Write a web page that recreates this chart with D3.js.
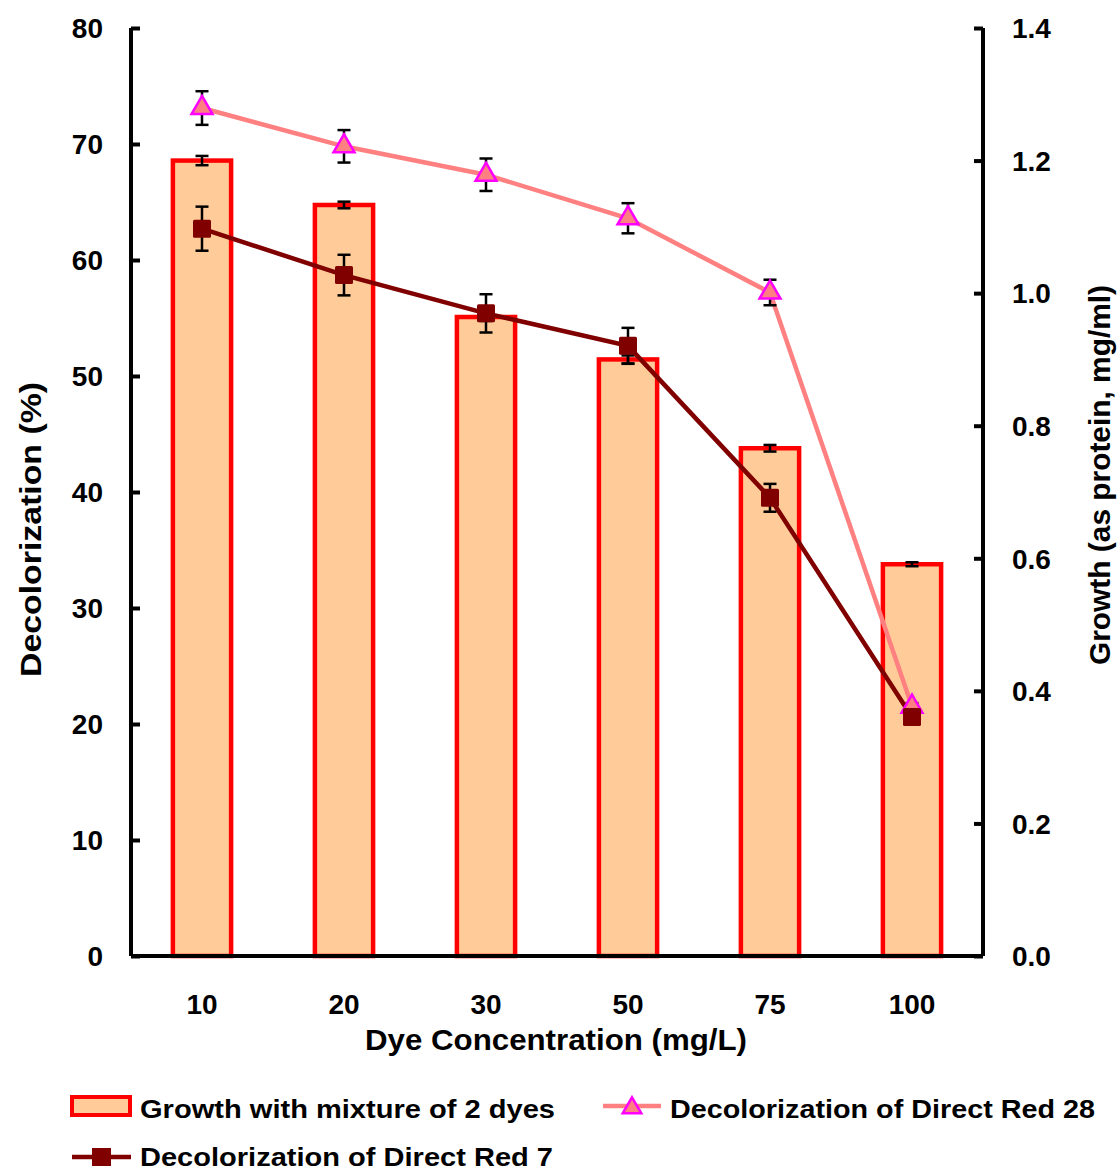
<!DOCTYPE html>
<html>
<head>
<meta charset="utf-8">
<script src="https://cdn.jsdelivr.net/npm/d3@7"></script>
<style>
  html, body { margin: 0; padding: 0; background: #fff; }
  svg { display: block; font-family: "Liberation Sans", Arial, sans-serif; font-weight: bold; }
</style>
</head>
<body>
<svg id="chart" width="1120" height="1171"></svg>
<script>
// Dye concentrations (mg/L)
const categories = ["10", "20", "30", "50", "75", "100"];
// Growth with mixture of 2 dyes (mg/ml protein), right axis
const growth = [1.20, 1.133, 0.964, 0.90, 0.766, 0.591];
const growthErr = [0.007, 0.005, 0.006, 0.006, 0.005, 0.003];
// Decolorization of Direct Red 28 (%), left axis
const dr28 = [73.1, 69.8, 67.35, 63.6, 57.2, 21.5];
const dr28Err = [1.45, 1.4, 1.4, 1.3, 1.1, 0.3];
// Decolorization of Direct Red 7 (%), left axis
const dr7 = [62.7, 58.7, 55.4, 52.6, 39.5, 20.6];
const dr7Err = [1.9, 1.75, 1.65, 1.55, 1.2, 0.2];
// Axis ticks
const leftTicks = [0, 10, 20, 30, 40, 50, 60, 70, 80];
const rightTicks = [0.0, 0.2, 0.4, 0.6, 0.8, 1.0, 1.2, 1.4];

const svg = d3.select("#chart");
const plotLeft = 131, plotRight = 983, plotTop = 28, plotBottom = 956;

const x = d3.scaleBand().domain(categories).range([plotLeft, plotRight])
  .paddingInner(0.59).paddingOuter(0.295);
const cx = d => x(d) + x.bandwidth() / 2;
const yL = d3.scaleLinear().domain([0, 80]).range([plotBottom, plotTop]);
const yR = d3.scaleLinear().domain([0, 1.4]).range([plotBottom, plotTop]);

// Bars
svg.append("g").selectAll("rect").data(categories).join("rect")
  .attr("x", d => x(d))
  .attr("y", (d, i) => yR(growth[i]))
  .attr("width", x.bandwidth())
  .attr("height", (d, i) => plotBottom - yR(growth[i]))
  .attr("fill", "#FFCC99")
  .attr("stroke", "#FF0000")
  .attr("stroke-width", 4.5);

// Error bars helper
function errorBars(vals, errs, scale, cap) {
  const g = svg.append("g").attr("stroke", "#000").attr("stroke-width", 2.5);
  categories.forEach((c, i) => {
    const xc = cx(c), y1 = scale(vals[i] - errs[i]), y2 = scale(vals[i] + errs[i]);
    g.append("line").attr("x1", xc).attr("x2", xc).attr("y1", y1).attr("y2", y2);
    g.append("line").attr("x1", xc - cap).attr("x2", xc + cap).attr("y1", y1).attr("y2", y1);
    g.append("line").attr("x1", xc - cap).attr("x2", xc + cap).attr("y1", y2).attr("y2", y2);
  });
}
errorBars(growth, growthErr, yR, 6.5);

// Lines
const lineGen = d3.line().x((d, i) => cx(categories[i])).y(d => yL(d));
svg.append("path").datum(dr28).attr("d", lineGen)
  .attr("fill", "none").attr("stroke", "#FF8080").attr("stroke-width", 4.5);
errorBars(dr28, dr28Err, yL, 6.5);

svg.append("path").datum(dr7).attr("d", lineGen)
  .attr("fill", "none").attr("stroke", "#800000").attr("stroke-width", 4.5);
errorBars(dr7, dr7Err, yL, 6.5);

// Markers
const tri = d3.symbol().type(d3.symbolTriangle).size(190);
svg.append("g").selectAll("path").data(dr28).join("path")
  .attr("d", tri)
  .attr("transform", (d, i) => `translate(${cx(categories[i])},${yL(d)})`)
  .attr("fill", "#FF8080").attr("stroke", "#FF00FF").attr("stroke-width", 2.5);

svg.append("g").selectAll("rect").data(dr7).join("rect")
  .attr("x", (d, i) => cx(categories[i]) - 9)
  .attr("y", d => yL(d) - 9)
  .attr("width", 18).attr("height", 18).attr("rx", 1.5)
  .attr("fill", "#800000");

// Axes
const axisL = svg.append("g").attr("transform", `translate(${plotLeft},0)`)
  .call(d3.axisRight(yL).tickValues(leftTicks).tickSize(9).tickFormat(d3.format("d")));
const axisR = svg.append("g").attr("transform", `translate(${plotRight},0)`)
  .call(d3.axisLeft(yR).tickValues(rightTicks).tickSize(9).tickFormat(d3.format(".1f")));
[axisL, axisR].forEach(a => {
  a.select(".domain").attr("stroke", "#000").attr("stroke-width", 4)
    .attr("d", `M0,${plotTop}V${plotBottom}`);
  a.selectAll(".tick line").attr("stroke", "#000").attr("stroke-width", 4);
  a.selectAll(".tick text").attr("font-size", 28).attr("font-weight", "bold")
    .attr("fill", "#000").attr("font-family", "Liberation Sans, Arial, sans-serif");
});
axisL.selectAll(".tick text").attr("x", -28).attr("text-anchor", "end").attr("dy", "0.35em");
axisR.selectAll(".tick text").attr("x", 29).attr("text-anchor", "start").attr("dy", "0.35em");

// Bottom axis
const axisB = svg.append("g").attr("transform", `translate(0,${plotBottom})`)
  .call(d3.axisBottom(x).tickSize(0));
axisB.select(".domain").attr("stroke", "#000").attr("stroke-width", 4)
  .attr("d", `M${plotLeft},0H${plotRight}`);
axisB.selectAll(".tick text").attr("font-size", 28).attr("font-weight", "bold")
  .attr("fill", "#000").attr("y", 48).attr("dy", "0.35em")
  .attr("font-family", "Liberation Sans, Arial, sans-serif");

// Axis titles
function stretched(sel, len) {
  return sel.attr("textLength", len).attr("lengthAdjust", "spacingAndGlyphs");
}
stretched(svg.append("text").attr("x", 556).attr("y", 1050).attr("text-anchor", "middle")
  .attr("font-size", 30).text("Dye Concentration (mg/L)"), 382);
stretched(svg.append("text").attr("transform", "translate(41,529.5) rotate(-90)")
  .attr("text-anchor", "middle").attr("font-size", 30).text("Decolorization (%)"), 295);
stretched(svg.append("text").attr("transform", "translate(1110,475) rotate(-90)")
  .attr("text-anchor", "middle").attr("font-size", 30).text("Growth (as protein, mg/ml)"), 380);

// Legend
const lg = svg.append("g").attr("font-size", 26);
lg.append("rect").attr("x", 72).attr("y", 1097).attr("width", 58).attr("height", 18)
  .attr("fill", "#FFCC99").attr("stroke", "#FF0000").attr("stroke-width", 4);
stretched(lg.append("text").attr("x", 140).attr("y", 1118).text("Growth with mixture of 2 dyes"), 415);

lg.append("line").attr("x1", 603).attr("x2", 661).attr("y1", 1106).attr("y2", 1106)
  .attr("stroke", "#FF8080").attr("stroke-width", 4.5);
lg.append("path").attr("d", d3.symbol().type(d3.symbolTriangle).size(150))
  .attr("transform", "translate(632,1108)")
  .attr("fill", "#FF8080").attr("stroke", "#FF00FF").attr("stroke-width", 2.5);
stretched(lg.append("text").attr("x", 670).attr("y", 1118).text("Decolorization of Direct Red 28"), 425);

lg.append("line").attr("x1", 72).attr("x2", 131).attr("y1", 1157).attr("y2", 1157)
  .attr("stroke", "#800000").attr("stroke-width", 4.5);
lg.append("rect").attr("x", 92).attr("y", 1148).attr("width", 19).attr("height", 18)
  .attr("fill", "#800000");
stretched(lg.append("text").attr("x", 140).attr("y", 1166).text("Decolorization of Direct Red 7"), 413);
</script>
</body>
</html>
